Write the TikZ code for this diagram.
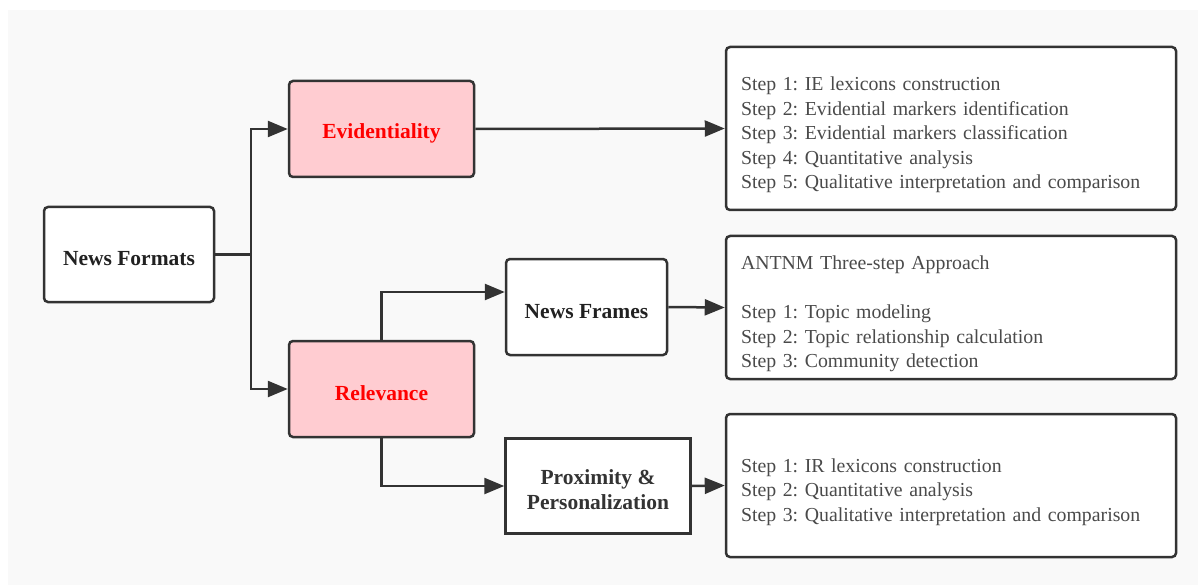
\documentclass[tikz,border=0pt]{standalone}
\usepackage{fontspec}
\setmainfont{LiberationSerif}[
  Extension=.ttf,
  UprightFont=*-Regular,
  BoldFont=*-Bold,
  ItalicFont=*-Italic,
  BoldItalicFont=*-BoldItalic]
\usetikzlibrary{arrows.meta}
\definecolor{edge}{HTML}{333333}
\definecolor{paper}{HTML}{F9F9F9}
\definecolor{pinkfill}{HTML}{FFCCD1}
\definecolor{steptext}{HTML}{4A4A4A}
\frenchspacing
% extra room above the first line of a node text, to sit it a little lower
\newcommand{\firstlinelift}{\rule{0pt}{27pt}}
\newcommand{\titlelift}{\rule{0pt}{23pt}}
\begin{document}
\begin{tikzpicture}[x=1pt,y=-1pt,
  box/.style={draw=edge,line width=2.5pt,rounded corners=4pt,fill=white,
    inner sep=0pt,align=center,font=\fontsize{21.5}{25}\selectfont\bfseries,text=black!87},
  hot/.style={box,fill=pinkfill,text=red},
  stepbox/.style={box,minimum width=450pt,text width=420pt,align=left,
    font=\fontsize{19.8}{24.5}\selectfont,text=steptext},
  link/.style={draw=edge,line width=2.5pt},
  arr/.style={link,-{Triangle[length=20pt,width=16pt]}}]
  % page and panel
  \useasboundingbox (0,0) rectangle (1198,585);
  \fill[white] (0,0) rectangle (1198,585);
  \fill[paper] (8,10) rectangle (1198,585);
  % main nodes
  \node[box,minimum width=170pt,minimum height=95pt] (nf) at (129,254.5) {\titlelift News Formats};
  \node[hot,minimum width=185pt,minimum height=96pt] (ev) at (381.5,129) {\titlelift Evidentiality};
  \node[hot,minimum width=185pt,minimum height=96pt] (rel) at (381.5,389) {\titlelift Relevance};
  \node[box,minimum width=161pt,minimum height=96pt] (fr) at (586.5,307) {\titlelift News Frames};
  \node[box,rounded corners=0pt,minimum width=185pt,minimum height=95pt,text=edge] (prox) at (598,486)
    {\titlelift Proximity \&\\Personalization};
  % step lists
  \node[stepbox,minimum height=163pt] (s1) at (951,128.5) {%
    \firstlinelift Step 1: IE lexicons construction\\
    Step 2: Evidential markers identification\\
    Step 3: Evidential markers classification\\
    Step 4: Quantitative analysis\\
    Step 5: Qualitative interpretation and comparison};
  \node[stepbox,minimum height=143pt] (s2) at (951,307.5) {%
    \firstlinelift ANTNM Three-step Approach\\[24.5pt]
    Step 1: Topic modeling\\
    Step 2: Topic relationship calculation\\
    Step 3: Community detection};
  \node[stepbox,minimum height=143pt] (s3) at (951,485.5) {%
    \firstlinelift Step 1: IR lexicons construction\\
    Step 2: Quantitative analysis\\
    Step 3: Qualitative interpretation and comparison};
  % connectors
  \coordinate (j) at (251,254.5);
  \draw[link] (nf.east) -- (j);
  \draw[arr] (j) |- (ev.west);
  \draw[arr] (j) |- (rel.west);
  \draw[arr] (ev.east) -- (s1.west);
  \draw[arr] (rel.north) |- ([yshift=15pt]fr.west);
  \draw[arr] (rel.south) |- (prox.west);
  \draw[arr] (fr.east) -- (s2.west);
  \draw[arr] (prox.east) -- (s3.west);
\end{tikzpicture}
\end{document}
